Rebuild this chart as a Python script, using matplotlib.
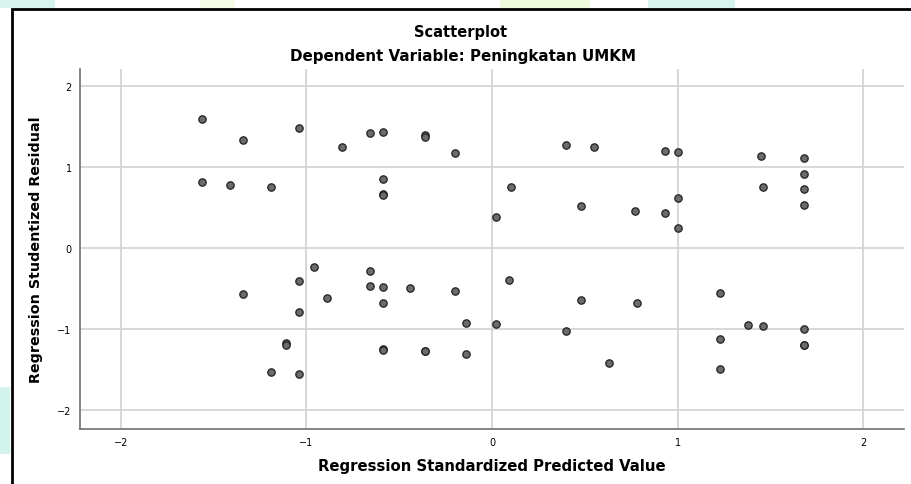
import matplotlib.pyplot as plt
from matplotlib.patches import Rectangle

# standardized predicted value vs studentized residual
pred = [-1.56, -1.34, -1.04, -0.81, -0.66, -0.59, -0.36, -0.36, -0.20,
        -1.56, -1.41, -1.19, -0.59, -0.59, -0.59, 0.02,
        0.40, 0.55, 0.93, 1.00, 1.45, 1.68, 1.68, 1.68, 1.68, 1.46,
        0.10, 0.48, 0.77, 0.93, 1.00, 1.00,
        -0.96, -0.66, -1.04, -1.34, -0.66, -0.59, -0.44, -0.20, -0.89, -0.59,
        -1.04, -0.14, 0.02, -1.11, -1.11, -0.59, -0.59, -0.36, -0.36, -0.14,
        -1.19, -1.04,
        0.09, 0.48, 0.78, 0.40, 0.63, 1.23, 1.23, 1.23, 1.38, 1.46,
        1.68, 1.68, 1.68]
resid = [1.59, 1.34, 1.48, 1.25, 1.42, 1.43, 1.39, 1.37, 1.18,
         0.82, 0.78, 0.75, 0.85, 0.67, 0.66, 0.39,
         1.27, 1.25, 1.20, 1.19, 1.14, 1.11, 0.92, 0.73, 0.53, 0.76,
         0.75, 0.52, 0.46, 0.44, 0.62, 0.25,
         -0.23, -0.28, -0.41, -0.56, -0.47, -0.48, -0.49, -0.53, -0.62, -0.67,
         -0.79, -0.92, -0.94, -1.17, -1.19, -1.24, -1.25, -1.27, -1.27, -1.30,
         -1.53, -1.55,
         -0.39, -0.64, -0.67, -1.02, -1.42, -0.55, -1.12, -1.49, -0.95, -0.96,
         -1.00, -1.19, -1.20]

fig = plt.figure(figsize=(9.11, 4.85), dpi=100)
W, H = 911, 485

# faint watermark bits outside the frame
for x0, x1, y0, y1, c in [(0, 55, 476, 485, '#d6f3ee'), (200, 235, 476, 485, '#f4fbe6'),
                          (500, 590, 476, 485, '#eefadb'), (648, 735, 476, 485, '#d6f3ee'),
                          (0, 10, 30, 97, '#d3f3ed')]:
    fig.patches.append(Rectangle((x0 / W, y0 / H), (x1 - x0) / W, (y1 - y0) / H,
                                 transform=fig.transFigure, color=c, lw=0, zorder=0))
# frame around the chart
fig.patches.append(Rectangle((11.5 / W, -0.1), 1.2, 1.1 - 9.5 / H, transform=fig.transFigure,
                             fill=False, ec='black', lw=2, zorder=1))

ax = fig.add_axes([80 / W, (H - 430) / H, (904 - 80) / W, (430 - 70) / H])
ax.scatter(pred, resid, s=28, c='#6b6b6b', edgecolors='#202020', linewidths=0.9, zorder=3)

ax.set_xlim(-2.22, 2.22)
ax.set_ylim(-2.23, 2.21)
ax.set_xticks([-2, -1, 0, 1, 2])
ax.set_yticks([-2, -1, 0, 1, 2])
ax.grid(True, color='#d4d4d4', lw=1.3)
ax.set_axisbelow(True)
ax.tick_params(length=0, labelsize=7, pad=6)
for s in ['top', 'right']:
    ax.spines[s].set_visible(False)
for s in ['left', 'bottom']:
    ax.spines[s].set_color('#707070')
    ax.spines[s].set_linewidth(1.2)

ax.set_xlabel('Regression Standardized Predicted Value', fontsize=10.7, fontweight='bold', labelpad=8)
ax.set_ylabel('Regression Studentized Residual', fontsize=10.3, fontweight='bold', labelpad=10)

fig.text(461 / W, 1 - 32 / H, 'Scatterplot', ha='center', va='center',
         fontsize=10.5, fontweight='bold')
fig.text(463 / W, 1 - 57 / H, 'Dependent Variable: Peningkatan UMKM', ha='center', va='center',
         fontsize=10.9, fontweight='bold')

fig.savefig('out.png', dpi=100)
